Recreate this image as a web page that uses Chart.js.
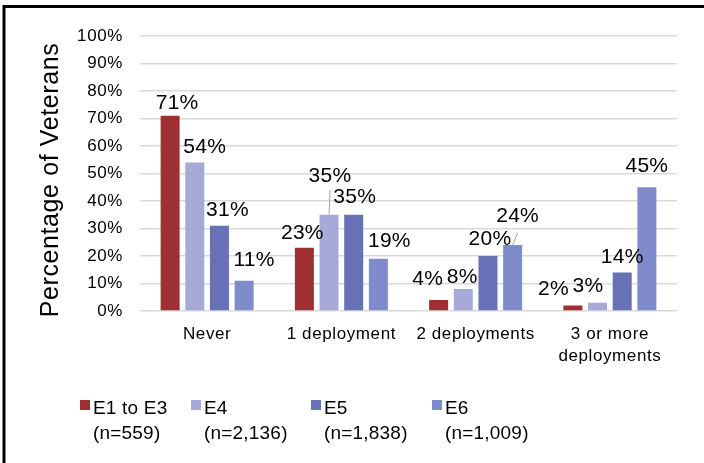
<!DOCTYPE html>
<html>
<head>
<meta charset="utf-8">
<script src="https://cdn.jsdelivr.net/npm/chart.js@4.4.0/dist/chart.umd.min.js"></script>
<style>
  html, body { margin: 0; padding: 0; background: #fff; }
  canvas { display: block; }
</style>
</head>
<body>
<canvas id="chart" width="704" height="463"></canvas>
<script>
// Deployment frequency by pay grade
const categories = ['Never', '1 deployment', '2 deployments', ['3 or more', 'deployments']];
const seriesNames = ['E1 to E3', 'E4', 'E5', 'E6'];
const sampleSizes = ['(n=559)', '(n=2,136)', '(n=1,838)', '(n=1,009)'];
const e1ToE3 = [71, 23, 4, 2];
const e4 = [54, 35, 8, 3];
const e5 = [31, 35, 20, 14];
const e6 = [11, 19, 24, 45];
const yTickValues = [0, 10, 20, 30, 40, 50, 60, 70, 80, 90, 100];
const yAxisTitle = 'Percentage of Veterans';

const seriesValues = [e1ToE3, e4, e5, e6];
const seriesColors = ['#9E2F32', '#A6AAD6', '#6672B5', '#808BCB'];

// Value label nudges [dx, dy] from the top-centre of each bar (per series, per category)
const labelNudges = [
  [[7, -6.5], [-2, -9], [-11, -15], [-19.5, -11]],
  [[10, -10], [1, -33], [-1, -6], [-9.5, -10.5]],
  [[8, -9.5], [1, -12], [2, -11], [0, -10]],
  [[10, -15], [11, -12], [5, -23], [0, -15]]
];
// Leader lines: [series, category, endDx, endDy] from the bar top
const leaderLines = [
  [1, 1, 1, -25],
  [3, 2, 5, -12]
];

const FONT = "'Liberation Sans', Arial, sans-serif";
const SPACING = '0.6px';

const spacingPlugin = {
  id: 'spacing',
  afterInit(chart) { chart.ctx.letterSpacing = SPACING; },
  beforeUpdate(chart) { chart.ctx.letterSpacing = SPACING; },
  beforeDraw(chart) { chart.ctx.letterSpacing = SPACING; }
};

const valueLabels = {
  id: 'valueLabels',
  afterDatasetsDraw(chart) {
    const ctx = chart.ctx;
    ctx.save();
    // leader lines
    ctx.strokeStyle = '#A6A6A6';
    ctx.lineWidth = 1;
    leaderLines.forEach(([s, c, ex, ey]) => {
      const bar = chart.getDatasetMeta(s).data[c];
      ctx.beginPath();
      ctx.moveTo(bar.x, bar.y);
      ctx.lineTo(bar.x + ex, bar.y + ey);
      ctx.stroke();
    });
    ctx.letterSpacing = '0.3px';
    ctx.font = '21px ' + FONT;
    ctx.fillStyle = '#000';
    ctx.textAlign = 'center';
    ctx.textBaseline = 'alphabetic';
    chart.data.datasets.forEach((ds, i) => {
      chart.getDatasetMeta(i).data.forEach((bar, j) => {
        const [dx, dy] = labelNudges[i][j];
        ctx.fillText(ds.data[j] + '%', bar.x + dx, bar.y + dy);
      });
    });
    ctx.restore();
  }
};

const frameAndLegend = {
  id: 'frameAndLegend',
  afterDraw(chart) {
    const ctx = chart.ctx;
    const xs = [80, 191, 311, 432];
    ctx.save();
    // rotated axis title
    ctx.letterSpacing = SPACING;
    ctx.font = '25px ' + FONT;
    ctx.fillStyle = '#000';
    ctx.textAlign = 'center';
    ctx.textBaseline = 'middle';
    ctx.translate(51, 180);
    ctx.rotate(-Math.PI / 2);
    ctx.fillText(yAxisTitle, 0, 0);
    ctx.setTransform(1, 0, 0, 1, 0, 0);

    // legend, two lines per entry
    ctx.letterSpacing = '0.2px';
    ctx.font = '19px ' + FONT;
    ctx.textAlign = 'left';
    ctx.textBaseline = 'alphabetic';
    chart.data.datasets.forEach((ds, i) => {
      const x = xs[i];
      ctx.fillStyle = ds.backgroundColor;
      ctx.fillRect(x, 400, 10, 10);
      ctx.fillStyle = '#000';
      ctx.fillText(seriesNames[i], x + 13, 414);
      ctx.fillText(sampleSizes[i], x + 13, 439);
    });
    // outer frame
    ctx.strokeStyle = '#000';
    ctx.lineWidth = 3;
    ctx.strokeRect(4, 6.5, 800, 600);
    ctx.restore();
  }
};

new Chart(document.getElementById('chart'), {
  type: 'bar',
  data: {
    labels: categories,
    datasets: seriesNames.map((name, i) => ({
      label: name,
      data: seriesValues[i],
      backgroundColor: seriesColors[i],
      borderWidth: 0,
      categoryPercentage: 0.735,
      barPercentage: 0.77
    }))
  },
  options: {
    responsive: false,
    animation: false,
    devicePixelRatio: 1,
    layout: { padding: { left: 0, top: 36, right: 27, bottom: 0 } },
    plugins: {
      legend: { display: false },
      tooltip: { enabled: false }
    },
    scales: {
      x: {
        grid: { display: false, drawTicks: false },
        border: { display: false },
        ticks: {
          color: '#000',
          font: { family: FONT, size: 17, lineHeight: 1.25 },
          padding: 13,
          maxRotation: 0,
          autoSkip: false
        },
        afterFit(scale) { scale.height = 152; }
      },
      y: {
        min: 0,
        max: 100,
        afterBuildTicks(scale) { scale.ticks = yTickValues.map(v => ({ value: v })); },
        grid: { color: '#D9D9D9', lineWidth: 1.5, drawTicks: false },
        border: { display: false },
        ticks: {
          color: '#000',
          font: { family: FONT, size: 17 },
          padding: 17,
          callback: v => v + '%'
        },
        afterFit(scale) { scale.width = 140; }
      }
    }
  },
  plugins: [spacingPlugin, valueLabels, frameAndLegend]
});
</script>
</body>
</html>
